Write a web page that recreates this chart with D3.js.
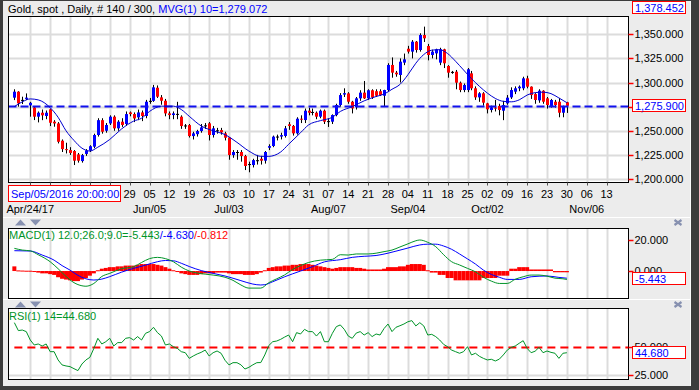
<!DOCTYPE html>
<html>
<head>
<meta charset="utf-8">
<script src="https://cdnjs.cloudflare.com/ajax/libs/d3/7.8.5/d3.min.js"></script>
<style>
  body { margin: 0; background: #3c3c3c; }
  svg { display: block; font-family: "Liberation Sans", Arial, sans-serif; font-size: 11px; }
</style>
</head>
<body>
<svg id="chart" width="699" height="390"></svg>
<script>
// daily bars, index 0 = Apr/18/17 ... 139 = Oct/30/17
var open = [
  1284.3, 1290.5, 1281.5, 1283, 1276.3, 1274.2, 1264.6, 1268.7, 1265.3, 1272.2,
  1259.4, 1257.6, 1239.7, 1231, 1230, 1229, 1225.5, 1218.6, 1226, 1229.5,
  1233.5, 1245.6, 1261, 1250, 1257.6, 1264.6, 1252.5, 1259.4, 1257, 1269,
  1267.3, 1263.9, 1269, 1265.3, 1280.5, 1281, 1294.6, 1284.6, 1281.1, 1268,
  1266.3, 1267, 1264.6, 1255, 1255.9, 1244.5, 1246.5, 1249.7, 1255, 1257.7,
  1245.6, 1250, 1250.7, 1247.3, 1243.1, 1224.8, 1228, 1228, 1223.8, 1214.8,
  1214.5, 1219, 1221, 1219, 1232.4, 1234.2, 1243.5, 1244, 1244.6, 1256.7,
  1255, 1247.3, 1262.5, 1261.1, 1270.8, 1269, 1268.7, 1264.6, 1270.8, 1259.4,
  1259.4, 1266.3, 1276.7, 1287.5, 1288.7, 1280.1, 1274.3, 1283.6, 1289.5, 1283.6,
  1292, 1291, 1291, 1286.3, 1292.2, 1318.2, 1310.2, 1307.8, 1320.6, 1335,
  1332, 1342.3, 1333.7, 1349.2, 1337.8, 1328.5, 1330.2, 1320.6, 1334.4, 1317.1,
  1311, 1311.2, 1299.8, 1292.2, 1292.2, 1309.5, 1294, 1284.6, 1288.8, 1278.4,
  1271.5, 1274, 1275.7, 1270.8, 1278.4, 1284.6, 1290.5, 1294, 1294, 1304.3,
  1295.7, 1288, 1281.5, 1291.5, 1283.6, 1275.7, 1280.1, 1280.1, 1268.7, 1279.5
];
var high = [
  1293, 1291, 1285.3, 1288.7, 1280, 1275, 1270, 1272, 1271, 1273,
  1261, 1259, 1241, 1237.6, 1233, 1230, 1227, 1226, 1231, 1235,
  1247, 1263, 1263, 1258, 1266, 1266, 1261, 1263, 1270, 1270,
  1269, 1272, 1271, 1282, 1284, 1297.5, 1297, 1287, 1283, 1270,
  1270, 1280, 1266, 1257, 1257, 1249, 1251, 1257, 1258, 1259,
  1255, 1253, 1253, 1249, 1243.5, 1230, 1230, 1230, 1225, 1218,
  1221, 1225, 1224, 1229, 1236, 1245, 1246, 1248, 1255, 1259,
  1256, 1264, 1266, 1273, 1274, 1273, 1270, 1272, 1272, 1263,
  1267, 1278, 1289, 1294, 1290, 1281, 1285, 1292, 1301.6, 1293,
  1293, 1293, 1293, 1292.5, 1320, 1326, 1312, 1325, 1330, 1338,
  1344, 1343, 1351, 1357.9, 1340, 1334, 1335, 1336, 1335, 1318,
  1312, 1313, 1301, 1299, 1315, 1312, 1296, 1290, 1290, 1279,
  1276, 1282, 1278, 1281, 1287, 1295, 1296, 1297, 1306, 1307,
  1296, 1289, 1293, 1292, 1285, 1283, 1282, 1284, 1276, 1280
];
var low = [
  1281.8, 1275, 1277.7, 1281.8, 1264.6, 1261.1, 1258.7, 1261, 1262, 1254.9,
  1254.2, 1236.9, 1228, 1226.5, 1225, 1214.5, 1217, 1217, 1224, 1228,
  1232, 1244, 1247, 1248, 1256, 1250, 1250, 1254, 1255, 1265,
  1259, 1261, 1260, 1263, 1278, 1280, 1284, 1277, 1265, 1262,
  1262, 1262, 1252, 1252, 1243, 1241, 1244, 1248, 1252, 1240,
  1243, 1247, 1246, 1240, 1220, 1222, 1220, 1218, 1209.3, 1207,
  1212, 1215, 1215, 1216, 1230, 1233, 1240, 1241, 1243, 1251,
  1245, 1246, 1258, 1258, 1266, 1266, 1262, 1263, 1257, 1254,
  1257, 1265, 1275, 1285, 1278, 1268, 1272, 1281, 1283, 1282,
  1283, 1285, 1286, 1275, 1291, 1305, 1306, 1300, 1318, 1330,
  1325, 1331, 1332, 1342, 1323, 1325, 1324, 1318, 1315, 1305,
  1309, 1293, 1290, 1290, 1290, 1292, 1282, 1280, 1276, 1268,
  1269, 1270, 1266, 1261, 1277, 1283, 1288, 1291, 1292, 1294,
  1283, 1278, 1279, 1278, 1273, 1274, 1274, 1264, 1264, 1268.5
];
var close = [
  1290.5, 1278.4, 1282, 1284.3, 1279, 1264.6, 1268.7, 1266, 1268.7, 1258.3,
  1257.6, 1238.6, 1231, 1230, 1227, 1219, 1219, 1224.8, 1229.5, 1234,
  1245.6, 1261, 1249, 1256, 1264.6, 1252.5, 1259.4, 1256, 1267.3, 1267.3,
  1262.8, 1269, 1265.3, 1280.1, 1281, 1295, 1285.3, 1281.1, 1268, 1266.3,
  1268, 1267.5, 1254.9, 1255.5, 1244.5, 1247.3, 1249.7, 1253.5, 1255.6, 1245.6,
  1252.5, 1250.5, 1248.3, 1242.8, 1224.8, 1228, 1227.6, 1223.8, 1213.5, 1215.5,
  1219.6, 1219.5, 1219, 1228, 1234.1, 1243.9, 1244, 1245.5, 1252.5, 1255,
  1247.3, 1262.5, 1261.5, 1270.8, 1268.7, 1269.5, 1264.6, 1270.8, 1259.4, 1260,
  1266.3, 1276.7, 1287, 1289, 1280.1, 1273.2, 1283.6, 1289.5, 1283.6, 1292,
  1284.5, 1286.3, 1287, 1292.2, 1318.2, 1310.2, 1308.5, 1321.6, 1324, 1332,
  1342.3, 1333.7, 1349.2, 1345.8, 1328.5, 1332, 1334.4, 1334.4, 1319.9, 1310.2,
  1310.8, 1299.8, 1292.2, 1297.4, 1313.7, 1294, 1284.6, 1288.8, 1279.1, 1272.2,
  1274.3, 1273, 1271.5, 1276.7, 1284.3, 1292.2, 1294, 1295.7, 1304.3, 1295.7,
  1287, 1281.9, 1291.5, 1280.1, 1276.7, 1281.9, 1276.7, 1268.7, 1275, 1275.9
];

// MVG(10)
var maIdx = [0, 2, 4, 6, 9, 11, 13, 15, 17, 19, 21, 24, 27, 30, 32, 34, 37, 40, 42, 44,
  47, 50, 53, 56, 59, 62, 64, 67, 69, 72, 74, 77, 80, 82, 85, 88, 91, 93, 95, 97,
  99, 101, 103, 105, 107, 109, 111, 113, 115, 117, 119, 121, 123, 125, 127, 129, 131, 133, 135, 137, 139];
var maVal = [1275, 1280, 1283, 1282, 1274, 1264, 1250, 1240, 1232, 1229, 1233, 1241, 1252, 1260, 1263, 1270, 1275.5, 1275.5, 1272, 1265,
  1255, 1250, 1246, 1238, 1229, 1223.5, 1223.5, 1228, 1236, 1248, 1256, 1260.5, 1264, 1270, 1275, 1281, 1285.5, 1288, 1293, 1298,
  1308, 1320, 1329, 1333.5, 1334, 1330, 1322, 1313, 1304, 1296, 1289, 1283.5, 1280.5, 1280, 1282, 1287, 1289.5, 1290, 1288.5, 1284, 1279.1];

// MACD line (green) and signal (blue)
var macdIdx = [0, 2, 4, 6, 9, 11, 13, 15, 17, 18, 20, 22, 24, 27, 30, 32, 34, 36, 38, 40,
  42, 44, 46, 48, 50, 53, 55, 57, 59, 62, 64, 66, 68, 70, 72, 74, 77, 80, 82, 84,
  86, 89, 91, 93, 95, 97, 99, 101, 102, 104, 106, 108, 110, 112, 114, 116, 118, 120, 122, 124,
  126, 128, 130, 132, 134, 136, 138, 139];
var macdVal = [14.6, 13.5, 13, 10.5, 6, 1.5, -3.5, -7.5, -9.5, -9.8, -8, -3.5, -1.5, 1.5, 2.8, 5.5, 8, 8.8, 8, 6,
  2.5, 0, -1.3, -2, -2.6, -4, -6, -9, -11, -11, -7.5, -5, -2.5, 1, 3.5, 5.5, 7, 7.5, 10.5, 10.3,
  11, 11, 11.5, 12.5, 13.5, 15.5, 17.5, 19.5, 20, 18.5, 15.7, 10.5, 6, 3.9, 1.7, -0.5, -4, -6.5, -8, -8,
  -5.3, -3.7, -2.6, -2.6, -3.3, -4.6, -5, -5.443];
var sigIdx = [0, 4, 7, 10, 12, 14, 16, 18, 20, 22, 24, 27, 30, 33, 36, 38, 40, 42, 44, 47,
  50, 53, 57, 60, 62, 63, 65, 68, 70, 72, 75, 78, 82, 85, 88, 91, 94, 96, 99, 102,
  104, 106, 108, 110, 112, 114, 116, 118, 120, 122, 124, 127, 130, 134, 137, 139];
var sigVal = [13.1, 12.9, 10.3, 7, 3.5, 0.6, -2.8, -5, -5.8, -5.2, -3.6, -0.7, 1.7, 3.8, 6, 6.8, 6.6, 5, 2.9, 0.3,
  -1.5, -3.2, -6.2, -8.4, -9, -8.8, -6.9, -3.7, -1.8, 0, 2.8, 5.9, 7.3, 8.8, 9.5, 10, 11.5, 12.8, 14.8, 16.8,
  17.3, 17.3, 16.1, 14, 11, 7.8, 4.5, 0.6, -2.2, -4, -5.4, -5.4, -3.7, -3.2, -4.1, -4.63];
var hist = [
  3, 0.4, 0.3, 0.2, 0.2, -0.5, -1, -1.5, -1.5, -2,
  -2.5, -4, -5, -5.5, -6, -6.5, -6.5, -5.5, -4.5, -3,
  -1.5, 0.5, 1.5, 2, 2.5, 2.5, 3, 3, 3.5, 3.5,
  3.5, 4, 4.5, 4.5, 4.5, 4.5, 4, 3.5, 2.5, 1.5,
  0.5, -0.5, -1.5, -2, -2.5, -2.5, -2.5, -2, -1.5, -1.5,
  -1.5, -1, -1, -1, -1.5, -2, -2, -2, -2.5, -2.5,
  -2.5, -2, -1, 0.5, 2, 2.5, 3, 3, 3.5, 3.5,
  4, 4, 4.5, 4.5, 4.5, 4, 3.5, 3, 2.5, 2,
  1.5, 2, 2.5, 2.5, 2.5, 2.5, 2, 2, 1.5, 1,
  1, 1, 1, 1.5, 2.5, 2.5, 2.5, 3, 3, 4,
  4.5, 4.5, 4.5, 4, 0.5, -1, -1, -2.5, -2.5, -4.5,
  -4.5, -6, -6, -6, -6, -6, -6, -6, -4.5, -4.5,
  -4.5, -4.5, -3, -3, -3, 1.5, 1.5, 2.5, 2.5, 2.5,
  1, 1, 1, 1, 1, 1, -0.8, -0.8, -0.8, -0.812
];

// RSI(14), one value per bar
var rsiVal = [71.2, 64.2, 64.7, 63.3, 55.9, 51.5, 52.4, 50.6, 52.4, 45.6,
  45.6, 38.3, 33.9, 33, 32.4, 30.6, 28.9, 34.7, 38.3, 40.6,
  48.5, 57.4, 52.4, 54.4, 57.4, 50.6, 53.6, 53.6, 57.4, 58,
  55.9, 58.9, 55.9, 61.8, 63.3, 67.1, 62.4, 59.4, 51.5, 52.4,
  50, 48.5, 45.6, 44.7, 39.7, 41.8, 43.6, 45, 47, 41.8,
  44.7, 46.2, 44.2, 38, 33.9, 35.9, 35.9, 34, 30.3, 31.8,
  34, 35.9, 36, 42.7, 51, 54.4, 55, 56.5, 58.5, 60.3,
  54.4, 62.4, 61.2, 65.3, 63.3, 63.3, 59.4, 63.3, 54.4, 54.4,
  61.8, 67.7, 69.2, 65.3, 59.4, 57.4, 62, 63.3, 60.3, 62.4,
  58.9, 61.2, 60.3, 66, 70, 63.3, 67.1, 68.5, 70, 72,
  73, 68.3, 71.2, 68.3, 60.3, 60.9, 58.9, 55.9, 52, 50,
  47, 45.6, 44.2, 45.6, 50, 42.7, 44.2, 41.5, 39.7, 38.3,
  38.9, 37.4, 39, 42.7, 47, 49.4, 50.6, 53, 55.3, 48.5,
  44.7, 46, 49.4, 44.7, 46.2, 45, 44.2, 39.7, 44.2, 44.68];

// week ticks (Mondays), bar index of each
var weekIdx = [4, 9, 14, 19, 24, 29, 34, 39, 44, 49, 54, 59, 64, 69, 74, 79, 84, 89, 94, 99,
  104, 109, 114, 119, 124, 129, 134, 139, 144, 149];
var weekLabels = ['24', '01', '08', '15', '22', '29', '05', '12', '19', '26', '03', '10', '17', '24', '31',
  '07', '14', '21', '28', '04', '11', '18', '25', '02', '09', '16', '23', '30', '06', '13'];
var monthIdx = [4, 34, 54, 79, 99, 119, 144];
var monthLabels = ['Apr/24/17', 'Jun/05', 'Jul/03', 'Aug/07', 'Sep/04', 'Oct/02', 'Nov/06'];

var priceTicks = [1200, 1225, 1250, 1275, 1300, 1325, 1350];
var macdTicks = [20, 0];
var rsiTicks = [50, 25];
var lastPrice = 1275.9, topPrice = 1378.452, lastMa = 1279.072;
var lastMacd = -5.443, lastSig = -4.630, lastHist = -0.812, lastRsi = 44.68;
var cursorText = 'Sep/05/2016 20:00:00';

var svg = d3.select('#chart');
var L = 8.5, R = 628.5;
var main = {top: 16.5, bottom: 182.5};
var pm = {top: 228.5, bottom: 298.5};
var pr = {top: 308.5, bottom: 379.5};

var x = d3.scaleLinear().domain([-1.6, 154.5]).range([8, 628.5]);
function px(i) { return Math.round(x(i)); }
var y = d3.scaleLinear().domain([1196.4, 1368.4]).range([main.bottom, main.top]);
var ym = d3.scaleLinear().domain([-17.7, 27.4]).range([pm.bottom, pm.top]);
var yr = d3.scaleLinear().domain([21.05, 83.7]).range([pr.bottom, pr.top]);

var fmt3 = d3.format(',.3f');
var BLUE = '#0000ff', RED = '#ff0000', GREEN = '#009428', GRID = '#dcdcdc', ICON = '#8791b0';

// window frame
svg.append('rect').attr('x', 0).attr('y', 0).attr('width', 699).attr('height', 390).attr('fill', '#3c3c3c');
svg.append('rect').attr('x', 3).attr('y', 1).attr('width', 688).attr('height', 385).attr('fill', '#ececec');
svg.append('line').attr('x1', 690.5).attr('x2', 690.5).attr('y1', 1).attr('y2', 386)
  .attr('stroke', '#fafafa').attr('stroke-width', 1);

function panel(p) {
  var g = svg.append('g');
  g.append('rect').attr('x', L).attr('y', p.top).attr('width', R - L).attr('height', p.bottom - p.top)
    .attr('fill', '#fff');
  g.selectAll('line.vgrid').data(weekIdx.filter(function (d) { return x(d) < R; }))
    .enter().append('line')
    .attr('class', 'vgrid')
    .attr('x1', function (d) { return px(d) + 0.5; })
    .attr('x2', function (d) { return px(d) + 0.5; })
    .attr('y1', p.top).attr('y2', p.bottom)
    .attr('stroke', GRID).attr('stroke-width', 2);
  return g;
}

function border(p) {
  svg.append('rect').attr('x', L).attr('y', p.top).attr('width', R - L).attr('height', p.bottom - p.top)
    .attr('fill', 'none').attr('stroke', '#000').attr('stroke-width', 1);
}

function axisLabels(ticks, scale, f) {
  svg.selectAll(null).data(ticks).enter().append('line')
    .attr('x1', R).attr('x2', R + 5)
    .attr('y1', function (d) { return Math.round(scale(d)) + 0.5; })
    .attr('y2', function (d) { return Math.round(scale(d)) + 0.5; })
    .attr('stroke', RED).attr('stroke-width', 1.5);
  svg.selectAll(null).data(ticks).enter().append('text')
    .attr('x', R + 6)
    .attr('y', function (d) { return scale(d) + 4; })
    .attr('fill', '#000')
    .text(f);
}

function valueBox(yc, w, txt) {
  svg.append('rect').attr('x', 632.5).attr('y', Math.round(yc) - 6.5).attr('width', w).attr('height', 12)
    .attr('fill', '#fff').attr('stroke', RED).attr('stroke-width', 1);
  svg.append('text').attr('x', 635).attr('y', Math.round(yc) + 4).attr('fill', BLUE).text(txt);
}

function separator(yTop) {
  svg.append('line').attr('x1', 3).attr('x2', 690).attr('y1', yTop + 0.5).attr('y2', yTop + 0.5)
    .attr('stroke', '#fff');
  var ty = yTop + 2.5;
  svg.append('path').attr('d', 'M15,' + (ty + 6) + 'L26,' + (ty + 6) + 'L20.5,' + ty + 'Z').attr('fill', ICON);
  svg.append('path').attr('d', 'M30,' + ty + 'L41,' + ty + 'L35.5,' + (ty + 6) + 'Z').attr('fill', ICON);
  svg.append('path').attr('d', 'M674.5,' + (ty + 0.5) + 'L681.5,' + (ty + 5.5) + 'M681.5,' + (ty + 0.5) + 'L674.5,' + (ty + 5.5))
    .attr('stroke', ICON).attr('stroke-width', 2.2);
}

// ---- main price panel
var g0 = panel(main);
g0.selectAll('line.hgrid').data(priceTicks).enter().append('line')
  .attr('x1', L).attr('x2', R)
  .attr('y1', function (d) { return Math.round(y(d)) + 0.5; })
  .attr('y2', function (d) { return Math.round(y(d)) + 0.5; })
  .attr('stroke', GRID).attr('stroke-width', 2);

var bars = d3.range(close.length);
g0.selectAll('rect.wick').data(bars).enter().append('rect')
  .attr('class', 'wick')
  .attr('x', function (i) { return px(i); })
  .attr('y', function (i) { return y(high[i]); })
  .attr('width', 1)
  .attr('height', function (i) { return Math.max(1, y(low[i]) - y(high[i])); })
  .attr('fill', '#000');
g0.selectAll('rect.body').data(bars).enter().append('rect')
  .attr('class', 'body')
  .attr('x', function (i) { return px(i) - 1; })
  .attr('y', function (i) { return y(Math.max(open[i], close[i])); })
  .attr('width', 3)
  .attr('height', function (i) { return Math.max(1, Math.abs(y(open[i]) - y(close[i]))); })
  .attr('fill', function (i) {
    if (Math.abs(open[i] - close[i]) < 0.8) return '#000';
    return close[i] >= open[i] ? BLUE : RED;
  });

g0.append('line').attr('x1', L).attr('x2', R)
  .attr('y1', Math.round(y(lastPrice)) + 0.5).attr('y2', Math.round(y(lastPrice)) + 0.5)
  .attr('stroke', '#1010ee').attr('stroke-width', 2).attr('stroke-dasharray', '8,4');

var maLine = d3.line()
  .x(function (d) { return x(d[0]); })
  .y(function (d) { return y(d[1]); })
  .curve(d3.curveMonotoneX);
g0.append('path').attr('d', maLine(d3.zip(maIdx, maVal)))
  .attr('fill', 'none').attr('stroke', '#0000d0').attr('stroke-width', 1);
border(main);

// bottom ticks + date labels (the cursor box hides the first few day labels)
var boxRight = 121;
svg.selectAll(null).data(weekIdx).enter().append('line')
  .attr('x1', function (d) { return px(d) + 0.5; })
  .attr('x2', function (d) { return px(d) + 0.5; })
  .attr('y1', main.bottom).attr('y2', main.bottom + 3)
  .attr('stroke', '#555').attr('stroke-width', 1);
svg.selectAll(null).data(weekIdx.filter(function (d) { return x(d) - 6 > boxRight; })).enter().append('text')
  .attr('x', function (d) { return x(d); })
  .attr('y', 198)
  .attr('text-anchor', 'middle')
  .attr('fill', '#000')
  .text(function (d) { return weekLabels[weekIdx.indexOf(d)]; });
svg.selectAll(null).data(monthIdx).enter().append('text')
  .attr('x', function (d) { return x(d); })
  .attr('y', 213)
  .attr('text-anchor', 'middle')
  .attr('fill', '#000')
  .text(function (d, i) { return monthLabels[i]; });
svg.append('rect').attr('x', 8.5).attr('y', 185.5).attr('width', boxRight - 9).attr('height', 16)
  .attr('fill', '#fff').attr('stroke', RED);
svg.append('text').attr('x', 11).attr('y', 197.5).attr('fill', BLUE).text(cursorText);

var t0 = svg.append('text').attr('x', 8).attr('y', 13);
t0.append('tspan').attr('fill', '#000').text('Gold, spot , Daily, # 140 / 300, ');
t0.append('tspan').attr('fill', BLUE).text('MVG(1) 10=' + fmt3(lastMa));

axisLabels(priceTicks, y, fmt3);
valueBox(8, 53, fmt3(topPrice));
valueBox(y(lastPrice), 53, fmt3(lastPrice));

// ---- MACD panel
separator(217);
var g1 = panel(pm);
g1.selectAll('rect.hist').data(hist).enter().append('rect')
  .attr('class', 'hist')
  .attr('x', function (d, i) { return x(i) - 2; })
  .attr('width', 4)
  .attr('y', function (d) { return d >= 0 ? ym(d) : ym(0); })
  .attr('height', function (d) { return Math.max(1, Math.abs(ym(d) - ym(0))); })
  .attr('fill', RED);
var mLine = d3.line()
  .x(function (d) { return x(d[0]); })
  .y(function (d) { return ym(d[1]); })
  .curve(d3.curveMonotoneX);
g1.append('path').attr('d', mLine(d3.zip(sigIdx, sigVal)))
  .attr('fill', 'none').attr('stroke', BLUE).attr('stroke-width', 1);
g1.append('path').attr('d', mLine(d3.zip(macdIdx, macdVal)))
  .attr('fill', 'none').attr('stroke', GREEN).attr('stroke-width', 1);
var t1 = g1.append('text').attr('x', 9).attr('y', 239);
t1.append('tspan').attr('fill', GREEN).text('MACD(1) 12.0;26.0;9.0=' + lastMacd.toFixed(3));
t1.append('tspan').attr('fill', BLUE).text('/' + lastSig.toFixed(3));
t1.append('tspan').attr('fill', RED).text('/' + lastHist.toFixed(3));
border(pm);
axisLabels(macdTicks, ym, d3.format('.3f'));
valueBox(ym(lastMacd), 53, lastMacd.toFixed(3));

// ---- RSI panel
separator(299);
var g2 = panel(pr);
g2.append('line').attr('x1', L).attr('x2', R)
  .attr('y1', Math.round(yr(25)) + 0.5).attr('y2', Math.round(yr(25)) + 0.5)
  .attr('stroke', GRID).attr('stroke-width', 2);
g2.append('line').attr('x1', x(0)).attr('x2', R)
  .attr('y1', Math.round(yr(50)) + 0.5).attr('y2', Math.round(yr(50)) + 0.5)
  .attr('stroke', RED).attr('stroke-width', 2).attr('stroke-dasharray', '8,5');
var rLine = d3.line()
  .x(function (d, i) { return x(i); })
  .y(function (d) { return yr(d); });
g2.append('path').attr('d', rLine(rsiVal))
  .attr('fill', 'none').attr('stroke', GREEN).attr('stroke-width', 1);
g2.append('text').attr('x', 9).attr('y', 320).attr('fill', GREEN).text('RSI(1) 14=' + lastRsi.toFixed(3));
border(pr);
axisLabels(rsiTicks, yr, d3.format('.3f'));
valueBox(yr(lastRsi), 53, lastRsi.toFixed(3));
</script>
</body>
</html>
